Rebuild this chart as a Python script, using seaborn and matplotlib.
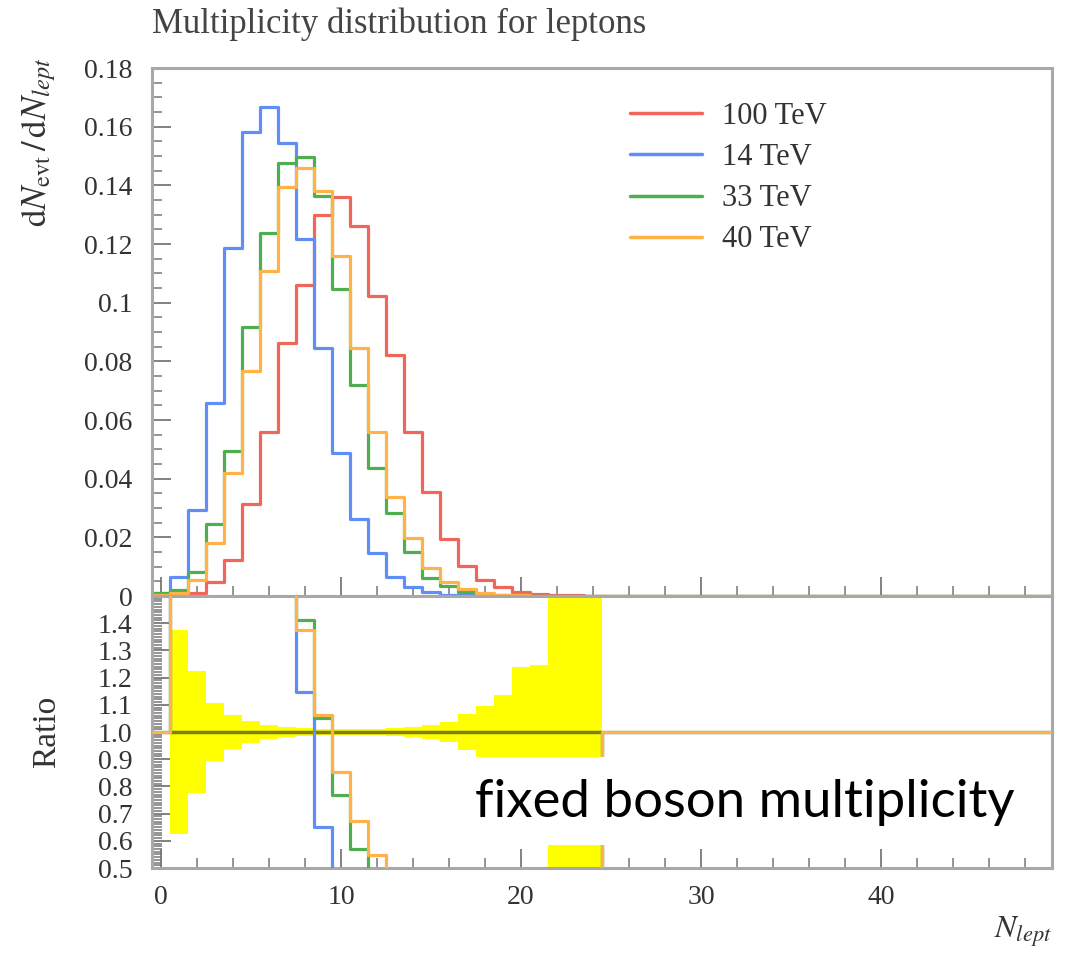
import numpy as np
import pandas as pd
import matplotlib
matplotlib.use("Agg")
import matplotlib.pyplot as plt
from matplotlib.lines import Line2D
from matplotlib.patches import Rectangle
from matplotlib.ticker import MultipleLocator, FixedLocator
import seaborn as sns

# --- data ---
n_bins = 50
labels = ['100 TeV', '14 TeV', '33 TeV', '40 TeV']
colors = ['#f0675a', '#5f8ff5', '#4fae50', '#ffb248']

vals_100 = [0, 0.0002, 0.001, 0.0049, 0.0123, 0.0314, 0.056, 0.0861, 0.106, 0.1299,
            0.1359, 0.1262, 0.1023, 0.0822, 0.056, 0.0356, 0.0193, 0.0102, 0.0055, 0.0032,
            0.0015, 0.0008, 0.0004, 0.0002, 0.0001]
vals_14 = [0.001, 0.0066, 0.0293, 0.0657, 0.1185, 0.1583, 0.1668, 0.1546, 0.1216, 0.0845,
           0.0487, 0.0261, 0.0148, 0.0066, 0.0032, 0.0012, 0.0005, 0.0002]
vals_33 = [0.001, 0.002, 0.0083, 0.0245, 0.0495, 0.0916, 0.1237, 0.1475, 0.1495, 0.1365,
           0.1045, 0.072, 0.0435, 0.0284, 0.0151, 0.006, 0.0034, 0.0015, 0.0007, 0.0003]
vals_40 = [0.0005, 0.001, 0.0055, 0.0182, 0.042, 0.0768, 0.1109, 0.1396, 0.1458, 0.138,
           0.116, 0.0847, 0.056, 0.0336, 0.0197, 0.0094, 0.0049, 0.0024, 0.001, 0.0005,
           0.0002]

# half width of the reference (100 TeV) uncertainty band, bins 1..24
band_halfwidth = [0.375, 0.223, 0.105, 0.062, 0.04, 0.027, 0.019, 0.014, 0.012, 0.011,
                  0.011, 0.012, 0.015, 0.019, 0.026, 0.038, 0.067, 0.095, 0.137, 0.239,
                  0.248, 0.9, 0.9, 0.9]

def pad(v):
    out = np.zeros(n_bins)
    out[:len(v)] = v
    return out

series = [pad(vals_100), pad(vals_14), pad(vals_33), pad(vals_40)]
centers = np.arange(n_bins)

df = pd.DataFrame({'N': np.tile(centers, 4),
                   'energy': np.repeat(labels, n_bins),
                   'dN': np.concatenate(series)})
ref = series[0]
df['ratio'] = np.concatenate([np.where(ref > 0, s / np.where(ref > 0, ref, 1), 1.0) for s in series])

# --- style ---
sns.set_style('white')
plt.rcParams['font.family'] = ['Liberation Serif', 'DejaVu Serif']
plt.rcParams['mathtext.fontset'] = 'stix'
txt_col = '#333333'
frame_col = '#a8a8a8'

fig = plt.figure(figsize=(10.77, 9.58), dpi=100)
ax1 = fig.add_axes([152/1077, 1 - 596/958, 900/1077, 528/958])
ax2 = fig.add_axes([152/1077, 1 - 868/958, 900/1077, 272/958], sharex=ax1)

# top panel: step histograms
for lab, col in zip(labels, colors):
    sub = df[df['energy'] == lab]
    sns.histplot(data=sub, x='N', weights='dN', discrete=True, element='step', fill=False,
                 color=col, linewidth=2.3, ax=ax1)

ax1.set_xlim(-0.5, 49.5)
ax1.set_ylim(0, 0.18)
ax1.set_yticks(np.arange(0, 0.181, 0.02))
ax1.set_yticklabels(['0', '0.02', '0.04', '0.06', '0.08', '0.1', '0.12', '0.14', '0.16', '0.18'])
ax1.yaxis.set_minor_locator(MultipleLocator(0.005))
ax1.set_xlabel('')
ax1.set_ylabel(r'$\mathrm{d}N_{\mathrm{evt}}\,/\,\mathrm{d}N_{lept}$', fontsize=25, color=txt_col, loc='top')
ax1.yaxis.set_label_coords(-0.104, 1.02)
ax1.tick_params(axis='x', labelbottom=False)
ax1.set_title('Multiplicity distribution for leptons', loc='left', fontsize=25,
              color='#444444', x=0.0, y=1.05)

handles = [Line2D([], [], color=c, lw=2.5) for c in colors]
ax1.legend(handles, labels, loc='upper left', bbox_to_anchor=(0.531, 0.936), frameon=False,
           fontsize=22, handlelength=2.35, handletextpad=0.65, labelspacing=0.4,
           borderpad=0, borderaxespad=0, labelcolor=txt_col)

# bottom panel: ratio to 100 TeV
band_edges = np.arange(0.5, 25.0, 1.0)
hw = np.array(band_halfwidth)
ax2.stairs(1 + hw, band_edges, baseline=1 - hw, fill=True, color='#ffff00', lw=0, zorder=1)
ax2.hlines(1.0, 0.5, 24.5, color='#7f7f12', lw=2.5, zorder=2)
for lab, col in zip(labels[1:], colors[1:]):
    sub = df[df['energy'] == lab]
    sns.histplot(data=sub, x='N', weights='ratio', discrete=True, element='step', fill=False,
                 color=col, linewidth=2.3, ax=ax2, zorder=3)

ax2.set_ylim(0.5, 1.5)
ax2.set_xlim(-0.5, 49.5)
ax2.yaxis.set_major_locator(FixedLocator(np.round(np.arange(0.5, 1.41, 0.1), 1)))
ax2.yaxis.set_minor_locator(MultipleLocator(0.01))
ax2.yaxis.set_major_formatter(matplotlib.ticker.FormatStrFormatter('%.1f'))
ax2.set_ylabel('Ratio', fontsize=24, color=txt_col)
ax2.yaxis.set_label_coords(-0.1, 0.5)
ax2.set_xlabel(r'$N_{lept}$', fontsize=23, color=txt_col, loc='right')
ax2.xaxis.set_label_coords(1.0, -0.17)

for ax in (ax1, ax2):
    ax.xaxis.set_major_locator(FixedLocator([0, 10, 20, 30, 40]))
    ax.xaxis.set_minor_locator(MultipleLocator(2))
    ax.tick_params(which='both', direction='in', color='#777777', labelcolor=txt_col,
                   labelsize=20, bottom=True, left=True, top=False, right=False)
    ax.tick_params(which='major', length=14, width=1.3)
    ax.tick_params(which='minor', length=7, width=1.1)
    ax.tick_params(axis='y', pad=14)
    for sp in ax.spines.values():
        sp.set_color(frame_col)
        sp.set_linewidth(2.2)
ax2.tick_params(axis='x', pad=12)

# overlay annotation on white box
ax2.add_patch(Rectangle((462/1077, 1 - 845/958), (1048 - 462)/1077, 88/958,
                        transform=fig.transFigure, facecolor='white', edgecolor='none',
                        zorder=5, clip_on=False))
ax2.text(745/1077, 1 - 803/958, 'fixed boson multiplicity', transform=fig.transFigure,
         ha='center', va='center', fontsize=38, family=['Lato', 'DejaVu Sans'],
         color='black', zorder=6)

fig.savefig('out.png', dpi=100)
